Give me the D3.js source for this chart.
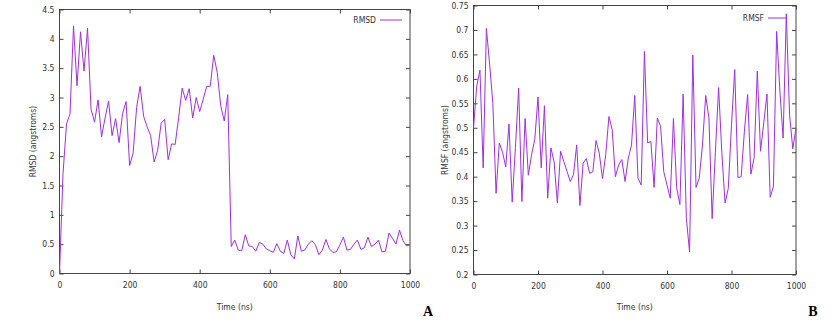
<!DOCTYPE html>
<html>
<head>
<meta charset="utf-8">
<style>
  body { margin: 0; background: #fff; }
  svg { display: block; }
  .tick text { font-family: "DejaVu Sans Condensed", "Liberation Sans Narrow", sans-serif; font-size: 8.5px; fill: #333; }
  .tick line { stroke: #444; }
  .domain { display: none; }
  .ttl { font-family: "DejaVu Sans Condensed", "Liberation Sans Narrow", sans-serif; font-size: 8.5px; fill: #333; }
  .panel { font-family: "Liberation Serif", "DejaVu Serif", serif; font-size: 14px; font-weight: bold; fill: #000; }
</style>
</head>
<body>
<svg width="837" height="327"></svg>
<script src="https://d3js.org/d3.v7.min.js"></script>
<script>
// time axis, 0..1000 ns every 10 ns
let timeNs = d3.range(0, 1001, 10)

let rmsd = [
  0, 1.7, 2.55, 2.72, 4.22, 3.2, 4.12, 3.45, 4.18, 2.8,
  2.58, 2.96, 2.33, 2.65, 2.94, 2.35, 2.64, 2.23, 2.73, 2.93,
  1.84, 2.05, 2.83, 3.19, 2.68, 2.5, 2.35, 1.9, 2.1, 2.56,
  2.63, 1.94, 2.21, 2.2, 2.66, 3.16, 2.95, 3.15, 2.65, 3.0,
  2.76, 2.97, 3.19, 3.19, 3.72, 3.43, 2.86, 2.6, 3.05, 0.46,
  0.57, 0.40, 0.39, 0.66, 0.47, 0.46, 0.38, 0.53, 0.50, 0.42,
  0.39, 0.36, 0.51, 0.38, 0.34, 0.57, 0.32, 0.25, 0.64, 0.38,
  0.40, 0.50, 0.56, 0.49, 0.32, 0.40, 0.58, 0.42, 0.36, 0.37,
  0.49, 0.62, 0.40, 0.41, 0.50, 0.57, 0.41, 0.44, 0.62, 0.46,
  0.50, 0.57, 0.37, 0.38, 0.69, 0.60, 0.50, 0.74, 0.56, 0.47,
  0.49
]

let rmsf = [
  0.50, 0.585, 0.618, 0.418, 0.703, 0.63, 0.55, 0.366, 0.469, 0.45,
  0.42, 0.508, 0.348, 0.46, 0.581, 0.349, 0.519, 0.403, 0.445, 0.476,
  0.563, 0.418, 0.545, 0.356, 0.459, 0.43, 0.346, 0.452, 0.431, 0.411,
  0.39, 0.404, 0.465, 0.341, 0.428, 0.437, 0.407, 0.41, 0.474, 0.448,
  0.396, 0.445, 0.523, 0.496, 0.40, 0.424, 0.435, 0.39, 0.438, 0.465,
  0.566, 0.397, 0.383, 0.656, 0.469, 0.472, 0.378, 0.52, 0.503, 0.41,
  0.383, 0.356, 0.519, 0.377, 0.343, 0.569, 0.315, 0.246, 0.649, 0.378,
  0.397, 0.465, 0.566, 0.52, 0.314, 0.45, 0.582, 0.45, 0.346, 0.376,
  0.506, 0.619, 0.398, 0.40, 0.493, 0.568, 0.405, 0.438, 0.616, 0.452,
  0.51, 0.569, 0.358, 0.38, 0.697, 0.575, 0.479, 0.733, 0.527, 0.457,
  0.5
]

let xTicks = [0, 200, 400, 600, 800, 1000]
let rmsdTicks = [0, 0.5, 1, 1.5, 2, 2.5, 3, 3.5, 4, 4.5]
let rmsfTicks = [0.2, 0.25, 0.3, 0.35, 0.4, 0.45, 0.5, 0.55, 0.6, 0.65, 0.7, 0.75]

let svg = d3.select("svg")
let lineColor = "#a030e0"

function drawPanel(cfg) {
  let x = d3.scaleLinear().domain([0, 1000]).range([cfg.left, cfg.right])
  let y = d3.scaleLinear().domain(cfg.yDomain).range([cfg.bottom, cfg.top])

  let g = svg.append("g")

  g.append("g")
    .attr("transform", `translate(0,${cfg.bottom})`)
    .call(d3.axisBottom(x).tickValues(xTicks).tickSize(-4).tickPadding(8).tickFormat(d3.format("d")))
  g.append("g")
    .attr("transform", `translate(0,${cfg.top})`)
    .call(d3.axisTop(x).tickValues(xTicks).tickSize(-4).tickFormat(""))
  g.append("g")
    .attr("transform", `translate(${cfg.left},0)`)
    .call(d3.axisLeft(y).tickValues(cfg.yTicks).tickSize(-4).tickPadding(5).tickFormat(d => String(+d.toFixed(2))))
  g.append("g")
    .attr("transform", `translate(${cfg.right},0)`)
    .call(d3.axisRight(y).tickValues(cfg.yTicks).tickSize(-4).tickFormat(""))

  g.append("rect")
    .attr("x", cfg.left).attr("y", cfg.top)
    .attr("width", cfg.right - cfg.left).attr("height", cfg.bottom - cfg.top)
    .attr("fill", "none").attr("stroke", "#444").attr("stroke-width", 1)

  let line = d3.line()
    .x((d, i) => x(timeNs[i]))
    .y(d => y(d))

  g.append("path")
    .datum(cfg.values)
    .attr("fill", "none")
    .attr("stroke", lineColor)
    .attr("stroke-width", 1)
    .attr("d", line)

  // legend
  g.append("text").attr("class", "ttl")
    .attr("x", cfg.legX - 4).attr("y", cfg.legY + 3)
    .attr("text-anchor", "end").text(cfg.name)
  g.append("line")
    .attr("x1", cfg.legX).attr("x2", cfg.legX + cfg.legW)
    .attr("y1", cfg.legY).attr("y2", cfg.legY)
    .attr("stroke", lineColor).attr("stroke-width", 1)

  // axis titles
  g.append("text").attr("class", "ttl")
    .attr("x", (cfg.left + cfg.right) / 2).attr("y", 310)
    .attr("text-anchor", "middle").text("Time (ns)")
  g.append("text").attr("class", "ttl")
    .attr("transform", `translate(${cfg.yTitleX},${(cfg.top + cfg.bottom) / 2}) rotate(-90)`)
    .attr("text-anchor", "middle").text(cfg.yTitle)
}

drawPanel({
  left: 59.5, right: 410, top: 9.5, bottom: 273.5,
  yDomain: [0, 4.5], yTicks: rmsdTicks, values: rmsd,
  name: "RMSD", legX: 380, legY: 20, legW: 22,
  yTitle: "RMSD (angstroms)", yTitleX: 36
})

drawPanel({
  left: 473.5, right: 796, top: 5.5, bottom: 274.5,
  yDomain: [0.2, 0.75], yTicks: rmsfTicks, values: rmsf,
  name: "RMSF", legX: 768, legY: 18, legW: 19,
  yTitle: "RMSF (angstroms)", yTitleX: 448
})

svg.append("text").attr("class", "panel").attr("x", 428).attr("y", 316).attr("text-anchor", "middle").text("A")
svg.append("text").attr("class", "panel").attr("x", 813).attr("y", 316).attr("text-anchor", "middle").text("B")
</script>
</body>
</html>
